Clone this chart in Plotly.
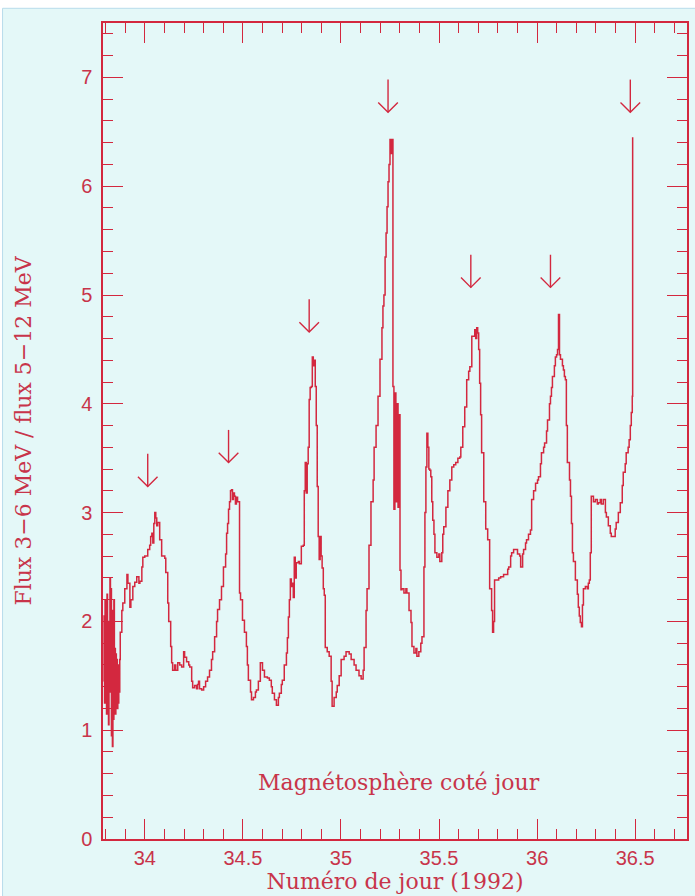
import plotly.graph_objects as go

# ---- data -------------------------------------------------------------
day = [
    33.790, 33.7925, 33.795, 33.7975, 33.800, 33.8025, 33.805, 33.8075, 33.810, 33.8125,
    33.815, 33.8175, 33.820, 33.8225, 33.825, 33.8275, 33.830, 33.8325, 33.835, 33.8375,
    33.840, 33.8425, 33.845, 33.8475, 33.850, 33.8525, 33.855, 33.8575, 33.860, 33.8625,
    33.865, 33.8675, 33.870, 33.8725, 33.875,
    33.878, 33.883, 33.888, 33.898, 33.909, 33.914, 33.924, 33.929, 33.939, 33.949,
    33.959, 33.970, 33.975, 33.985, 33.990, 34.000, 34.015, 34.025, 34.030, 34.036,
    34.041, 34.046, 34.051, 34.056, 34.061, 34.066, 34.076, 34.086, 34.102, 34.107,
    34.117, 34.122, 34.132, 34.137, 34.142, 34.152, 34.158, 34.168, 34.178, 34.188,
    34.198, 34.203, 34.213, 34.224, 34.229, 34.239, 34.244, 34.254, 34.264, 34.269,
    34.274, 34.279, 34.290, 34.300, 34.310, 34.320, 34.330, 34.340, 34.346, 34.356,
    34.366, 34.371, 34.381, 34.391, 34.401, 34.412, 34.417, 34.422, 34.427, 34.432,
    34.437, 34.442, 34.447, 34.452, 34.457, 34.462, 34.467, 34.473, 34.478, 34.483,
    34.488, 34.498, 34.508, 34.518, 34.523, 34.528, 34.539, 34.544, 34.554, 34.564,
    34.569, 34.579, 34.589, 34.600, 34.610, 34.625, 34.635, 34.645, 34.650, 34.661,
    34.671, 34.681, 34.686, 34.696, 34.701, 34.711, 34.722, 34.727, 34.732, 34.737,
    34.742, 34.747, 34.752, 34.757, 34.762, 34.767, 34.772, 34.783, 34.788, 34.798,
    34.808, 34.813, 34.818, 34.823, 34.828, 34.833, 34.838, 34.843, 34.849, 34.854,
    34.859, 34.864, 34.869, 34.874, 34.879, 34.884, 34.889, 34.894, 34.899, 34.904,
    34.910, 34.915, 34.920, 34.930, 34.940, 34.950, 34.955, 34.965, 34.976, 34.981,
    34.991, 35.001, 35.016, 35.026, 35.042, 35.052, 35.067, 35.077, 35.092, 35.103,
    35.113, 35.118, 35.128, 35.133, 35.143, 35.153, 35.164, 35.169, 35.179, 35.189,
    35.199, 35.209, 35.214, 35.219, 35.225, 35.230, 35.235, 35.240, 35.245, 35.250,
    35.255, 35.260, 35.265, 35.270, 35.275, 35.280, 35.286, 35.291, 35.296, 35.301,
    35.306, 35.311, 35.321, 35.331, 35.336, 35.347, 35.357, 35.362, 35.372, 35.382,
    35.387, 35.397, 35.407, 35.413, 35.423, 35.428, 35.433, 35.438, 35.443, 35.448,
    35.453, 35.458, 35.463, 35.468, 35.474, 35.479, 35.489, 35.499, 35.504, 35.514,
    35.519, 35.524, 35.535, 35.545, 35.555, 35.565, 35.575, 35.585, 35.596, 35.606,
    35.611, 35.621, 35.631, 35.641, 35.651, 35.657, 35.667, 35.677, 35.682, 35.687,
    35.692, 35.697, 35.702, 35.707, 35.712, 35.717, 35.728, 35.738, 35.748, 35.758,
    35.768, 35.773, 35.778, 35.783, 35.789, 35.804, 35.814, 35.829, 35.839, 35.850,
    35.855, 35.865, 35.870, 35.880, 35.890, 35.900, 35.911, 35.916, 35.921, 35.926,
    35.931, 35.941, 35.946, 35.956, 35.966, 35.972, 35.982, 35.992, 36.002, 36.007,
    36.017, 36.022, 36.033, 36.038, 36.048, 36.053, 36.063, 36.068, 36.073, 36.078,
    36.088, 36.093, 36.099, 36.104, 36.109, 36.114, 36.119, 36.129, 36.134, 36.139,
    36.144, 36.149, 36.154, 36.165, 36.170, 36.175, 36.180, 36.185, 36.195, 36.205,
    36.210, 36.215, 36.220, 36.226, 36.231, 36.236, 36.246, 36.256, 36.261, 36.266,
    36.271, 36.276, 36.287, 36.297, 36.307, 36.312, 36.322, 36.327, 36.337, 36.348,
    36.353, 36.363, 36.373, 36.378, 36.388, 36.398, 36.403, 36.414, 36.424, 36.434,
    36.439, 36.449, 36.454, 36.464, 36.469, 36.475, 36.480, 36.485, 36.487,
]

ratio = [
    1.45, 2.05, 1.25, 2.20, 1.50, 1.95, 1.15, 2.25, 1.30, 1.85,
    1.05, 2.00, 1.35, 2.40, 1.60, 2.30, 0.95, 2.10, 0.85, 1.95,
    1.10, 2.20, 1.20, 1.75, 1.15, 1.70, 1.30, 1.65, 1.20, 1.60,
    1.25, 1.55, 1.35, 1.65, 1.90,
    1.90, 2.10, 2.17, 2.30, 2.43, 2.35, 2.13, 2.20, 2.32, 2.36,
    2.41, 2.35, 2.37, 2.50, 2.59, 2.60, 2.66, 2.70, 2.78, 2.81,
    2.72, 2.90, 3.00, 2.95, 2.88, 2.91, 2.75, 2.60, 2.58, 2.45,
    2.17, 2.00, 1.77, 1.62, 1.55, 1.60, 1.55, 1.62, 1.60, 1.58,
    1.72, 1.67, 1.63, 1.60, 1.58, 1.45, 1.39, 1.41, 1.38, 1.42,
    1.45, 1.38, 1.37, 1.40, 1.45, 1.49, 1.55, 1.65, 1.72, 1.86,
    2.00, 2.11, 2.20, 2.32, 2.50, 2.62, 2.81, 2.90, 3.03, 3.10,
    3.20, 3.21, 3.12, 3.18, 3.15, 3.08, 3.14, 3.10, 3.10, 2.26,
    2.20, 2.01, 1.90, 1.77, 1.60, 1.46, 1.35, 1.28, 1.30, 1.35,
    1.37, 1.45, 1.62, 1.55, 1.49, 1.48, 1.46, 1.40, 1.34, 1.28,
    1.23, 1.30, 1.34, 1.42, 1.46, 1.60, 1.71, 1.85, 2.04, 2.20,
    2.39, 2.32, 2.35, 2.22, 2.59, 2.40, 2.54, 2.55, 2.53, 2.69,
    2.70, 3.20, 3.46, 3.18, 3.45, 3.60, 4.04, 4.15, 4.16, 4.43,
    4.35, 4.40, 4.16, 3.80, 3.24, 2.78, 2.57, 2.78, 2.60, 2.49,
    2.30, 2.24, 1.76, 1.72, 1.68, 1.45, 1.22, 1.30, 1.35, 1.41,
    1.50, 1.65, 1.68, 1.72, 1.70, 1.65, 1.60, 1.55, 1.50, 1.47,
    1.55, 1.76, 2.10, 2.30, 2.70, 3.10, 3.30, 3.60, 3.80, 4.07,
    4.41, 4.70, 4.90, 5.00, 5.35, 5.57, 5.81, 6.04, 6.20, 6.43,
    6.30, 6.43, 4.16, 3.03, 4.10, 3.10, 4.00, 3.05, 3.90, 2.47,
    2.29, 2.30, 2.26, 2.30, 2.26, 2.10, 1.99, 1.77, 1.71, 1.75,
    1.68, 1.72, 1.80, 1.86, 2.50, 3.00, 3.42, 3.73, 3.60, 3.40,
    3.39, 3.33, 3.10, 2.93, 2.80, 2.63, 2.59, 2.62, 2.55, 2.63,
    2.80, 2.87, 3.05, 3.20, 3.30, 3.42, 3.44, 3.46, 3.50, 3.51,
    3.60, 3.79, 3.97, 4.22, 4.30, 4.34, 4.62, 4.62, 4.68, 4.60,
    4.70, 4.65, 4.50, 4.19, 3.90, 3.55, 3.10, 2.85, 2.75, 2.30,
    2.10, 1.90, 2.00, 2.38, 2.38, 2.40, 2.41, 2.43, 2.43, 2.48,
    2.50, 2.60, 2.63, 2.66, 2.66, 2.62, 2.60, 2.50, 2.50, 2.62,
    2.66, 2.72, 2.75, 2.80, 2.84, 3.12, 3.20, 3.27, 3.30, 3.33,
    3.45, 3.55, 3.60, 3.64, 3.75, 3.85, 4.00, 4.07, 4.15, 4.25,
    4.35, 4.43, 4.45, 4.50, 4.82, 4.45, 4.41, 4.35, 4.31, 4.25,
    4.22, 3.80, 3.46, 3.30, 3.15, 2.90, 2.63, 2.55, 2.38, 2.25,
    2.13, 2.05, 1.99, 1.95, 2.15, 2.30, 2.32, 2.30, 2.35, 2.38,
    2.63, 3.15, 3.10, 3.12, 3.08, 3.09, 3.12, 3.08, 3.12, 3.00,
    2.96, 2.88, 2.81, 2.78, 2.78, 2.85, 2.91, 3.00, 3.09, 3.25,
    3.37, 3.45, 3.55, 3.60, 3.67, 3.80, 3.92, 4.07, 6.45,
]

# arrows marking the peaks: position (day) and tip height
arrow_day = [34.015, 34.427, 34.838, 35.240, 35.662, 36.068, 36.475]
arrow_tip = [3.24, 3.46, 4.66, 6.68, 5.07, 5.07, 6.68]

x_ticks = [34, 34.5, 35, 35.5, 36, 36.5]
x_tick_text = ["34", "34.5", "35", "35.5", "36", "36.5"]
y_ticks = [0, 1, 2, 3, 4, 5, 6, 7]

# ---- style ------------------------------------------------------------
RED = "#d3283f"
TXT = "#c8344a"
BG = "#e4f8f8"
SHAFT = 0.30      # arrow shaft length (y units)
WING_X = 0.05     # arrow wing half-width (days)
WING_Y = 0.09     # arrow wing height (y units)
TFONT = "DejaVu Serif"

ax_x, ax_y = [], []
for d, t in zip(arrow_day, arrow_tip):
    ax_x += [d, d, None, d - WING_X, d, d + WING_X, None]
    ax_y += [t + SHAFT, t, None, t + WING_Y, t, t + WING_Y, None]

fig = go.Figure()
fig.add_trace(go.Scatter(
    x=day, y=ratio, mode="lines", line=dict(color=RED, width=1.5, shape="hv"),
    showlegend=False, hoverinfo="skip"))
fig.add_trace(go.Scatter(
    x=ax_x, y=ax_y, mode="lines", line=dict(color=RED, width=1.4),
    showlegend=False, hoverinfo="skip"))

fig.add_annotation(x=35.295, y=0.52, xref="x", yref="y",
                   text="Magnétosphère coté jour", showarrow=False,
                   font=dict(family=TFONT, size=22, color=TXT))

axis_common = dict(
    showline=True, linecolor=RED, linewidth=1.5, mirror="ticks",
    ticks="inside", ticklen=20, tickwidth=1.2, tickcolor=RED,
    showgrid=False, zeroline=False,
    tickfont=dict(family="Liberation Sans", size=20, color=TXT),
)

fig.update_xaxes(
    range=[33.787, 36.764], tickvals=x_ticks, ticktext=x_tick_text,
    minor=dict(dtick=0.1, tick0=34, ticks="inside", ticklen=10, tickcolor=RED, tickwidth=1.2),
    title=dict(text="Numéro de jour (1992)", standoff=1,
               font=dict(family=TFONT, size=22, color=TXT)),
    **axis_common)
fig.update_yaxes(
    range=[0, 7.5], tickvals=y_ticks, ticklabelstandoff=5,
    minor=dict(dtick=0.2, tick0=0, ticks="inside", ticklen=10, tickcolor=RED, tickwidth=1.2),
    title=dict(text="Flux 3−6 MeV / flux 5−12 MeV", standoff=43,
               font=dict(family=TFONT, size=22, color=TXT)),
    **axis_common)

fig.add_shape(type="rect", xref="paper", yref="paper",
              x0=-0.172, x1=1.02, y0=-0.08, y1=1.018,
              line=dict(color="#b8dcec", width=1), fillcolor=BG, layer="below")

fig.update_layout(
    width=695, height=896,
    margin=dict(l=103, r=6, t=23, b=57),
    paper_bgcolor="white", plot_bgcolor=BG,
    font=dict(family=TFONT, color=TXT),
)

fig.write_html("out.html")
